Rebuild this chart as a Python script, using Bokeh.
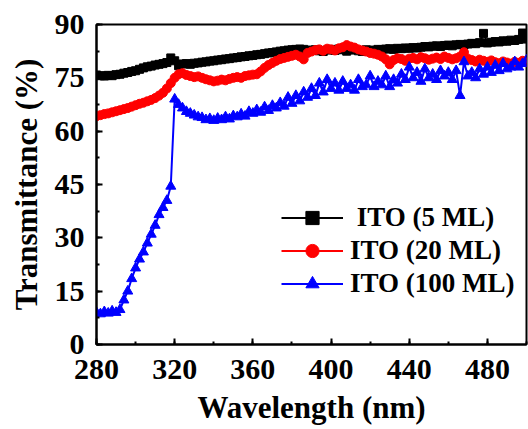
from bokeh.plotting import figure
from bokeh.models import SingleIntervalTicker, Range1d, Legend, LegendItem
from bokeh.embed import file_html
from bokeh.resources import INLINE

wavelength = list(range(280, 501, 2))

ito_5ml = [75.8, 75.6, 75.5, 75.7, 75.6, 75.9,
           76.0, 76.3, 76.5, 76.8, 77.0,
           77.4, 77.8, 78.1, 78.3, 78.6,
           78.8, 79.0, 79.3, 80.6, 79.8,
           78.4, 78.9, 79.0, 78.8, 79.1,
           79.2, 79.4, 79.5, 79.7, 79.8,
           80.0, 80.1, 80.3, 80.4, 80.6,
           80.7, 80.9, 81.0, 81.2, 81.3,
           81.5, 81.6, 81.8, 82.0, 82.1,
           82.3, 82.5, 82.6, 82.8, 82.9,
           83.0, 83.1, 83.0, 82.7, 82.8,
           82.9, 82.6, 82.4, 82.8, 83.0,
           82.7, 83.1, 82.9, 82.5, 82.8,
           83.0, 82.6, 82.4, 82.9, 82.7,
           82.8, 83.0, 82.9, 83.1, 83.2,
           83.0, 83.3, 83.2, 83.4, 83.3,
           83.5, 83.4, 83.6, 83.8, 83.7,
           83.9, 84.0, 83.8, 84.1, 84.2,
           84.0, 84.3, 84.4, 84.2, 84.5,
           84.7, 84.6, 84.9, 87.5, 84.8,
           85.0, 85.2, 85.1, 85.4, 85.3,
           85.6, 85.5, 85.8, 87.6, 85.9]

ito_20ml = [64.2, 64.5, 64.8, 65.0, 65.3, 65.6,
            65.9, 66.2, 66.5, 66.9, 67.3,
            67.7, 68.0, 68.4, 68.8, 69.3,
            70.0, 70.8, 72.0, 73.5, 75.0,
            76.0, 76.3, 75.8, 75.5, 75.2,
            75.4, 75.0, 74.6, 74.3, 74.0,
            74.2, 74.5, 74.3, 74.7, 75.0,
            75.2, 75.0, 75.5, 75.7, 75.9,
            76.0, 76.8, 77.8, 78.6, 79.2,
            79.8, 80.3, 80.6, 80.9, 81.2,
            81.5, 81.0, 80.2, 82.0, 82.4,
            82.8, 83.0, 82.6, 83.2, 83.0,
            82.7, 83.3, 83.6, 84.2, 83.8,
            83.5, 83.0, 82.7, 82.4, 82.0,
            81.8, 81.5, 81.0, 80.2, 78.8,
            80.0, 80.5, 80.3, 79.8, 80.4,
            80.6, 80.2, 80.8, 80.5, 80.1,
            80.4, 80.7, 80.3, 81.0, 80.6,
            80.2, 80.5, 81.0, 82.2, 80.4,
            80.0, 79.6, 80.1, 79.8, 79.5,
            79.9, 79.4, 79.1, 79.6, 79.3,
            79.0, 79.5, 79.2, 79.8, 79.4]

ito_100ml = [9.0, 8.6, 9.2, 8.8, 9.4, 9.0,
             9.8, 12.5, 15.0, 18.5, 21.5,
             24.0, 26.0, 28.5, 31.0, 33.5,
             36.5, 38.5, 40.5, 44.5, 69.0,
             67.5, 66.5, 65.5, 65.0, 64.5,
             64.0, 63.8, 63.2, 63.5, 63.0,
             63.6, 63.2, 64.0, 63.4, 64.3,
             64.0, 64.8, 64.2, 65.5, 65.0,
             66.0, 65.3, 66.8, 65.8, 67.2,
             66.5, 68.0, 67.0, 69.5, 67.8,
             70.0, 68.5, 71.0, 69.5, 72.0,
             70.0, 73.5, 71.0, 74.5, 72.0,
             73.5, 71.5, 74.0, 72.0, 73.0,
             71.5, 74.5, 72.5, 73.0, 75.5,
             72.5, 74.0, 73.0, 75.5, 72.5,
             74.5, 73.5, 76.0, 74.5, 78.0,
             75.0, 76.5, 74.0, 77.5, 75.0,
             76.0, 74.5, 77.0, 75.5, 76.5,
             74.5, 77.0, 70.0, 79.5, 75.5,
             76.5, 75.0, 77.5, 76.0, 78.0,
             76.5, 78.5, 77.0, 79.0, 77.5,
             78.0, 79.5, 78.0, 79.0, 80.0]

series_labels = ["\u00a0ITO (5 ML)", "ITO (20 ML)", "ITO (100 ML)"]
colors = ["black", "red", "blue"]

FONT = "Liberation Serif"

p = figure(width=528, height=429, output_backend="svg", toolbar_location=None,
           x_range=Range1d(280, 500), y_range=Range1d(0, 90),
           min_border_left=96, min_border_right=2, min_border_top=24, min_border_bottom=85)

p.outline_line_color = "black"
p.outline_line_width = 2
p.outline_line_alpha = 1
p.xgrid.visible = False
p.ygrid.visible = False
p.background_fill_color = "white"
p.border_fill_color = "white"

p.xaxis.ticker = SingleIntervalTicker(interval=40, num_minor_ticks=2)
p.yaxis.ticker = SingleIntervalTicker(interval=15, num_minor_ticks=2)

for ax in (p.xaxis, p.yaxis):
    ax.axis_line_width = 2
    ax.major_tick_in = 6
    ax.major_tick_out = 0
    ax.minor_tick_in = 3
    ax.minor_tick_out = 0
    ax.major_tick_line_width = 2
    ax.minor_tick_line_width = 2
    ax.major_label_text_font = FONT
    ax.major_label_text_font_style = "bold"
    ax.major_label_text_font_size = "30px"
    ax.major_label_text_color = "black"
    ax.axis_label_text_font = FONT
    ax.axis_label_text_font_style = "bold"
    ax.axis_label_text_font_size = "31px"
    ax.axis_label_text_color = "black"

p.xaxis.axis_label = "Wavelength (nm)"
p.yaxis.axis_label = "Transmittance (%)"
p.xaxis.major_label_standoff = 15
p.yaxis.major_label_standoff = 12
p.xaxis.axis_label_standoff = 8
p.yaxis.axis_label_standoff = 8

ys = [ito_5ml, ito_20ml, ito_100ml]
markers = ["square", "circle", "triangle"]
sizes = [8, 9, 10]
items = []
for y, c, m, s, lab in zip(ys, colors, markers, sizes, series_labels):
    r1 = p.line(wavelength, y, line_color=c, line_width=2)
    r2 = p.scatter(wavelength, y, marker=m, size=s, fill_color=c, line_color=c)
    items.append(LegendItem(label=lab, renderers=[r1, r2]))

legend = Legend(items=items, location=(185, 44), margin=0, padding=0,
                spacing=0, label_height=33, glyph_height=33, glyph_width=62,
                label_standoff=7, border_line_color=None,
                background_fill_alpha=0,
                label_text_font=FONT, label_text_font_style="bold",
                label_text_font_size="27px", label_text_color="black")
p.add_layout(legend)

open("out.html", "w").write(file_html(p, INLINE))
